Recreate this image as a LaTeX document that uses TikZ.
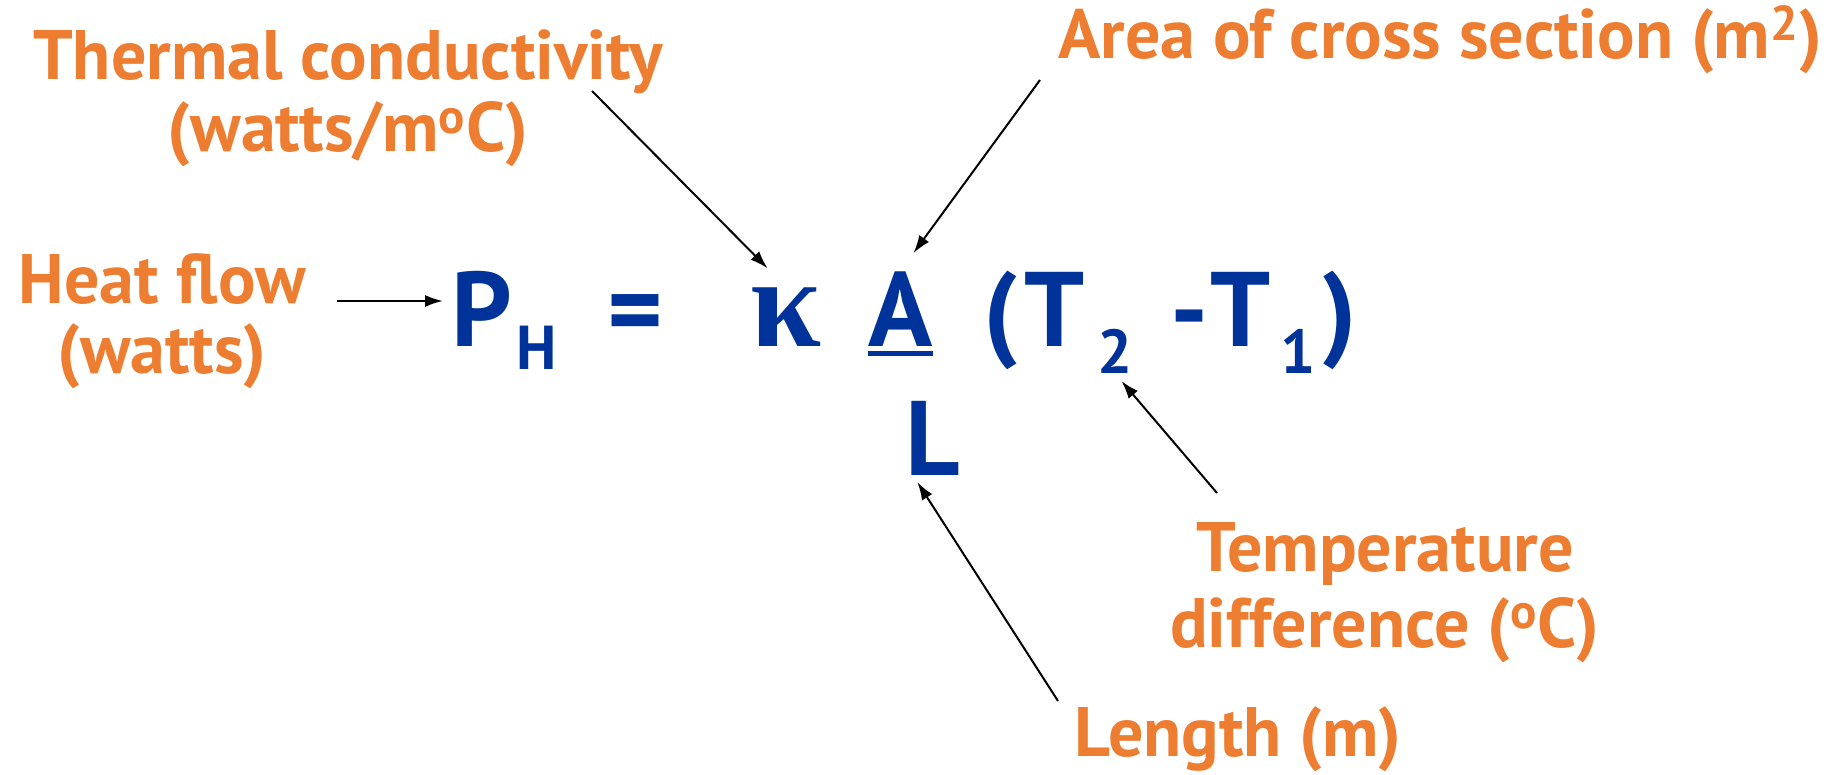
\documentclass[tikz,border=0pt]{standalone}
\usepackage{fontspec}
\setmainfont{PT Sans}
\newfontfamily\kappafont{Liberation Serif}
\usetikzlibrary{arrows.meta}
\definecolor{lblorange}{HTML}{ED7D31}
\definecolor{eqblue}{HTML}{003399}
\tikzset{
  lbl/.style={text=lblorange, font=\bfseries\fontsize{35}{36}\selectfont, align=center, inner sep=0pt, anchor=base},
  eqbig/.style={text=eqblue, font=\bfseries\fontsize{53}{60}\selectfont, inner sep=0pt, anchor=base west},
  eqsub/.style={text=eqblue, font=\bfseries\fontsize{31}{36}\selectfont, inner sep=0pt, anchor=base west},
  pointer/.style={-{Latex[length=9pt,width=6pt]}, line width=1pt}
}
\begin{document}
\begin{tikzpicture}[x=0.5pt, y=-0.5pt]
    \useasboundingbox (0,0) rectangle (1839,775);

    % labels (base = last line)
    \node[lbl] (tc) at (348,152) {Thermal conductivity\\(watts/m\textsuperscript{o}C)};
    \node[lbl] (area) at (1440,59) {Area of cross section (m\textsuperscript{2})};
    \node[lbl, font=\bfseries\fontsize{35}{35}\selectfont] (heat) at (162,373) {Heat flow\\(watts)};
    \node[lbl, font=\bfseries\fontsize{35}{38}\selectfont] (temp) at (1385,647) {Temperature\\difference (\textsuperscript{o}C)};
    \node[lbl] (len) at (1238,756) {Length (m)};

    % formula
    \node[eqbig] (ph) at (451,346) {P};
    \node[eqsub] (hsub) at (516,369) {H};
    \node[eqbig] (equals) at (607,346) {=};
    \node[eqbig, font=\kappafont\bfseries\fontsize{64}{70}\selectfont] (kappa) at (750,346) {κ};
    \node[eqbig] (num) at (868,346) {A};
    \draw[eqblue, line width=2.5pt] ([yshift=-3.5pt]num.base west) -- ([yshift=-3.5pt]num.base east);
    \node[eqbig] (den) at (905,475) {L};
    \node[eqbig] (lpar) at (983,346) {(};
    \node[eqbig] (tleft) at (1024,346) {T};
    \node[eqsub] (sub2) at (1097,373) {2};
    \node[eqbig] (minus) at (1170,346) {-};
    \node[eqbig] (tright) at (1210,346) {T};
    \node[eqsub] (sub1) at (1280,373) {1};
    \node[eqbig] (rpar) at (1322,346) {)};

    % pointers
    \coordinate (hftail) at (337,301);
    \coordinate (tctail) at (592,91);
    \coordinate (areatail) at (1040,80);
    \coordinate (temptail) at (1217,493);
    \coordinate (lentail) at (1058,701);
    \draw[pointer, shorten >=4pt] (hftail) -- (ph.west |- hftail);
    \draw[pointer, shorten >=13pt] (tctail) -- (kappa.north);
    \draw[pointer, shorten >=11pt] (areatail) -- (num.north);
    \draw[pointer, shorten >=5pt] (temptail) -- (sub2.south);
    \draw[pointer, shorten >=4pt] (lentail) -- ([xshift=4pt]den.south west);
\end{tikzpicture}
\end{document}
